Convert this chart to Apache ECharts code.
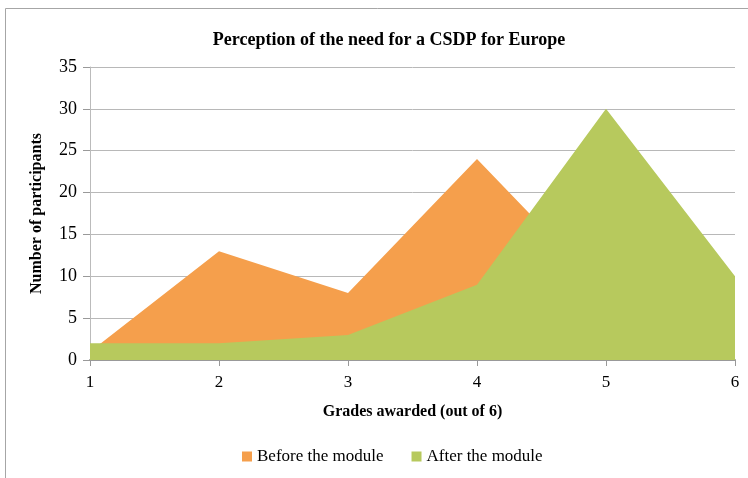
<!DOCTYPE html>
<html>
<head>
<meta charset="utf-8">
<script src="https://cdn.jsdelivr.net/npm/echarts@6/dist/echarts.min.js"></script>
<style>
  html, body { margin: 0; padding: 0; background: #fff; }
  #chart { width: 748px; height: 478px; }
</style>
</head>
<body>
<div id="chart"></div>
<script>
var grades = ['1', '2', '3', '4', '5', '6'];
var beforeModule = [1, 13, 8, 24, 8, 2];
var afterModule = [2, 2, 3, 9, 30, 10];
var yTicks = { min: 0, max: 35, interval: 5 };

var serif = "'Liberation Serif', 'DejaVu Serif', serif";

function initChart(dom) {
  var myChart = echarts.init(dom),
    option = {
      animation: false,
      graphic: [{
        type: 'rect',
        shape: { x: 5.5, y: 8.5, width: 800, height: 520 },
        style: { fill: 'none', stroke: '#a6a6a6', lineWidth: 1 },
        silent: true
      }],
      title: {
        text: 'Perception of the need for a CSDP for Europe',
        left: 384,
        textAlign: 'center',
        top: 26,
        textStyle: {
          fontFamily: serif,
          fontWeight: 'bold',
          fontSize: 18,
          color: '#000'
        }
      },
      grid: {
        left: 90,
        right: 13,
        top: 67,
        bottom: 118
      },
      legend: {
        bottom: 8,
        left: 237,
        itemWidth: 10,
        itemHeight: 10,
        itemGap: 28,
        icon: 'rect',
        textStyle: {
          fontFamily: serif,
          fontSize: 17,
          color: '#000'
        },
        data: ['Before the module', 'After the module']
      },
      xAxis: {
        type: 'category',
        boundaryGap: false,
        data: grades,
        name: 'Grades awarded (out of 6)',
        nameLocation: 'middle',
        nameGap: 44,
        nameTextStyle: {
          fontFamily: serif,
          fontWeight: 'bold',
          fontSize: 16,
          color: '#000'
        },
        axisLine: { lineStyle: { color: '#999', width: 2 } },
        axisTick: { show: true, length: 6, lineStyle: { color: '#999' } },
        axisLabel: {
          fontFamily: serif,
          fontSize: 17,
          color: '#000',
          margin: 14
        },
        splitLine: { show: false }
      },
      yAxis: {
        type: 'value',
        min: yTicks.min,
        max: yTicks.max,
        interval: yTicks.interval,
        name: 'Number of participants',
        nameLocation: 'middle',
        nameGap: 45,
        nameTextStyle: {
          fontFamily: serif,
          fontWeight: 'bold',
          fontSize: 16,
          color: '#000'
        },
        axisLine: { show: true, lineStyle: { color: '#bbb' } },
        axisTick: { show: true, length: 7, lineStyle: { color: '#999' } },
        axisLabel: {
          fontFamily: serif,
          fontSize: 18,
          color: '#000',
          margin: 13
        },
        splitLine: { lineStyle: { color: '#b8b8b8' } }
      },
      series: [
        {
          name: 'Before the module',
          type: 'line',
          symbol: 'none',
          itemStyle: { color: '#F59F4C' },
          lineStyle: { width: 0 },
          areaStyle: { color: '#F59F4C', opacity: 1 },
          data: beforeModule
        },
        {
          name: 'After the module',
          type: 'line',
          symbol: 'none',
          itemStyle: { color: '#B7C95D' },
          lineStyle: { width: 0 },
          areaStyle: { color: '#B7C95D', opacity: 1 },
          data: afterModule
        }
      ]
    };
  myChart.setOption(option, true);
}

initChart(document.getElementById('chart'));
</script>
</body>
</html>
